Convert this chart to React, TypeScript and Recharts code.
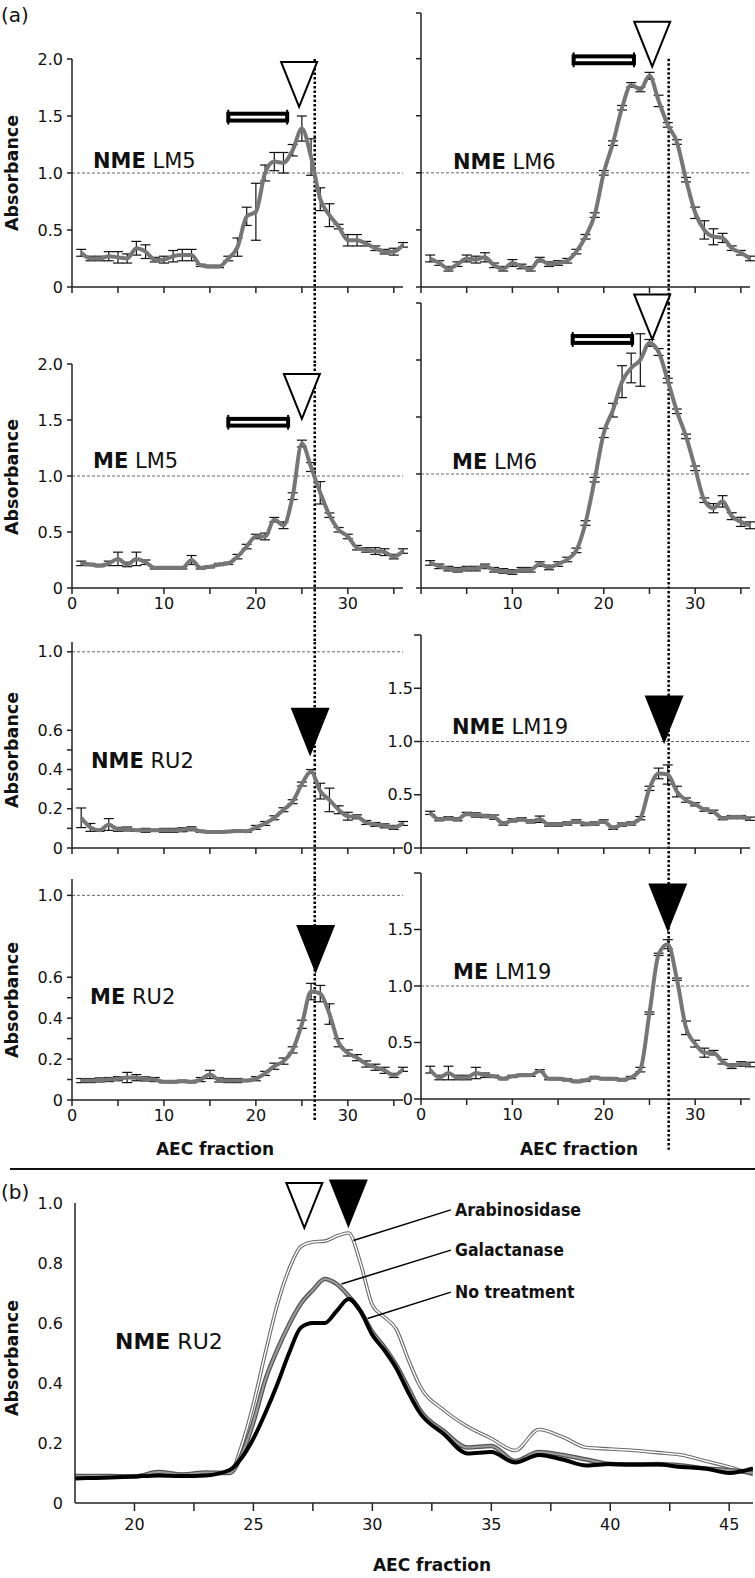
import React from "react"
import { LineChart, Line, XAxis, YAxis, ReferenceLine, ReferenceDot, ReferenceArea, ErrorBar } from "recharts"

// ---- (a) AEC fractions 1..36, absorbance readings ----
const fractions = [1, 2, 3, 4, 5, 6, 7, 8, 9, 10, 11, 12, 13, 14, 15, 16, 17, 18, 19, 20, 21, 22, 23, 24, 25, 26, 27, 28, 29, 30, 31, 32, 33, 34, 35, 36]
const xTicksA = [0, 5, 10, 15, 20, 25, 30, 35]

const nmeLm5 = [0.30, 0.25, 0.25, 0.27, 0.26, 0.25, 0.34, 0.31, 0.24, 0.24, 0.27, 0.28, 0.28, 0.19, 0.18, 0.18, 0.25, 0.35, 0.62, 0.66, 1.00, 1.10, 1.09, 1.20, 1.39, 1.14, 0.77, 0.63, 0.53, 0.41, 0.41, 0.38, 0.34, 0.31, 0.31, 0.37]
const nmeLm5Err = [0.03, 0.02, 0.02, 0.04, 0.05, 0.04, 0.06, 0.06, 0.02, 0.03, 0.05, 0.05, 0.05, 0.01, 0.01, 0.01, 0.02, 0.08, 0.08, 0.25, 0.07, 0.08, 0.09, 0.05, 0.11, 0.16, 0.1, 0.1, 0.02, 0.05, 0.05, 0.02, 0.02, 0.02, 0.03, 0.02]

const nmeLm6 = [0.25, 0.21, 0.16, 0.20, 0.25, 0.24, 0.26, 0.19, 0.16, 0.21, 0.18, 0.16, 0.24, 0.20, 0.21, 0.23, 0.31, 0.44, 0.63, 1.00, 1.26, 1.57, 1.77, 1.73, 1.85, 1.63, 1.42, 1.27, 0.94, 0.65, 0.50, 0.44, 0.43, 0.34, 0.30, 0.25]
const nmeLm6Err = [0.03, 0.02, 0.02, 0.02, 0.03, 0.03, 0.04, 0.02, 0.02, 0.03, 0.02, 0.02, 0.02, 0.02, 0.02, 0.02, 0.02, 0.02, 0.02, 0.02, 0.02, 0.02, 0.02, 0.02, 0.03, 0.05, 0.02, 0.02, 0.02, 0.05, 0.08, 0.07, 0.04, 0.02, 0.02, 0.02]

const meLm5 = [0.22, 0.21, 0.20, 0.22, 0.26, 0.21, 0.26, 0.23, 0.18, 0.18, 0.18, 0.18, 0.25, 0.18, 0.19, 0.21, 0.22, 0.28, 0.37, 0.46, 0.46, 0.61, 0.56, 0.82, 1.29, 1.08, 0.85, 0.65, 0.52, 0.46, 0.36, 0.34, 0.33, 0.32, 0.28, 0.33]
const meLm5Err = [0.02, 0.01, 0.01, 0.02, 0.06, 0.02, 0.06, 0.02, 0.01, 0.01, 0.01, 0.01, 0.04, 0.01, 0.01, 0.01, 0.01, 0.02, 0.02, 0.02, 0.03, 0.02, 0.03, 0.03, 0.03, 0.04, 0.1, 0.02, 0.02, 0.02, 0.02, 0.02, 0.03, 0.03, 0.02, 0.02]

const meLm6 = [0.22, 0.19, 0.17, 0.16, 0.17, 0.17, 0.19, 0.16, 0.15, 0.14, 0.16, 0.16, 0.21, 0.18, 0.21, 0.25, 0.33, 0.57, 0.95, 1.36, 1.56, 1.81, 1.93, 2.00, 2.15, 2.07, 1.82, 1.55, 1.33, 1.05, 0.77, 0.70, 0.76, 0.63, 0.58, 0.55]
const meLm6Err = [0.02, 0.02, 0.02, 0.02, 0.02, 0.02, 0.02, 0.02, 0.02, 0.02, 0.02, 0.02, 0.02, 0.02, 0.02, 0.02, 0.02, 0.02, 0.02, 0.04, 0.06, 0.14, 0.13, 0.23, 0.03, 0.03, 0.02, 0.02, 0.02, 0.02, 0.02, 0.04, 0.05, 0.03, 0.04, 0.03]

const nmeRu2 = [0.154, 0.105, 0.09, 0.12, 0.095, 0.097, 0.09, 0.09, 0.09, 0.09, 0.09, 0.093, 0.098, 0.085, 0.082, 0.082, 0.084, 0.087, 0.085, 0.105, 0.125, 0.154, 0.195, 0.236, 0.326, 0.39, 0.29, 0.245, 0.195, 0.162, 0.159, 0.13, 0.12, 0.113, 0.105, 0.125]
const nmeRu2Err = [0.05, 0.02, 0.005, 0.03, 0.01, 0.01, 0.005, 0.01, 0.005, 0.01, 0.01, 0.01, 0.01, 0.005, 0.005, 0.005, 0.005, 0.005, 0.005, 0.01, 0.01, 0.01, 0.01, 0.01, 0.01, 0.01, 0.04, 0.06, 0.02, 0.02, 0.01, 0.01, 0.01, 0.01, 0.01, 0.01]

const nmeLm19 = [0.33, 0.27, 0.28, 0.27, 0.32, 0.31, 0.30, 0.29, 0.23, 0.26, 0.27, 0.25, 0.27, 0.22, 0.22, 0.23, 0.25, 0.225, 0.23, 0.25, 0.19, 0.22, 0.23, 0.28, 0.56, 0.70, 0.69, 0.53, 0.45, 0.41, 0.36, 0.34, 0.28, 0.29, 0.29, 0.275]
const nmeLm19Err = [0.015, 0.015, 0.015, 0.015, 0.015, 0.02, 0.015, 0.02, 0.015, 0.015, 0.015, 0.015, 0.03, 0.015, 0.015, 0.015, 0.015, 0.015, 0.015, 0.015, 0.015, 0.015, 0.015, 0.015, 0.02, 0.05, 0.09, 0.05, 0.02, 0.015, 0.015, 0.015, 0.015, 0.015, 0.015, 0.015]

const meRu2 = [0.095, 0.095, 0.098, 0.10, 0.104, 0.11, 0.109, 0.103, 0.10, 0.089, 0.089, 0.092, 0.089, 0.10, 0.125, 0.098, 0.095, 0.095, 0.095, 0.104, 0.13, 0.165, 0.19, 0.245, 0.37, 0.53, 0.52, 0.42, 0.28, 0.23, 0.207, 0.176, 0.16, 0.145, 0.12, 0.15]
const meRu2Err = [0.01, 0.01, 0.01, 0.01, 0.01, 0.025, 0.015, 0.01, 0.01, 0.005, 0.005, 0.005, 0.005, 0.01, 0.02, 0.01, 0.01, 0.01, 0.005, 0.01, 0.01, 0.015, 0.015, 0.015, 0.02, 0.04, 0.04, 0.05, 0.02, 0.015, 0.015, 0.015, 0.015, 0.015, 0.01, 0.01]

const meLm19 = [0.26, 0.19, 0.23, 0.19, 0.19, 0.23, 0.21, 0.20, 0.18, 0.20, 0.21, 0.21, 0.25, 0.18, 0.18, 0.17, 0.155, 0.165, 0.19, 0.18, 0.18, 0.17, 0.19, 0.26, 0.76, 1.28, 1.37, 1.06, 0.63, 0.49, 0.41, 0.41, 0.33, 0.29, 0.31, 0.305]
const meLm19Err = [0.03, 0.02, 0.06, 0.02, 0.02, 0.05, 0.02, 0.01, 0.01, 0.01, 0.01, 0.01, 0.01, 0.01, 0.01, 0.01, 0.01, 0.01, 0.01, 0.01, 0.01, 0.01, 0.01, 0.02, 0.01, 0.01, 0.04, 0.01, 0.06, 0.03, 0.04, 0.02, 0.02, 0.02, 0.02, 0.02]

// ---- (b) NME RU2 after enzyme treatments ----
const bFractions = [17.5, 18, 19, 20, 21, 22, 23, 24, 24.5, 25, 25.5, 26, 26.5, 27, 27.5, 28, 28.5, 29, 29.5, 30, 30.5, 31, 31.5, 32, 33, 34, 35, 36, 37, 38, 39, 40, 41, 42, 43, 44, 45, 46]
const bNoTreatment = [0.082, 0.083, 0.085, 0.088, 0.092, 0.09, 0.092, 0.11, 0.15, 0.215, 0.30, 0.395, 0.50, 0.585, 0.60, 0.60, 0.64, 0.68, 0.64, 0.56, 0.51, 0.45, 0.37, 0.30, 0.23, 0.165, 0.17, 0.135, 0.16, 0.145, 0.125, 0.13, 0.128, 0.128, 0.12, 0.115, 0.10, 0.115]
const bGalactanase = [0.09, 0.09, 0.09, 0.088, 0.103, 0.095, 0.102, 0.10, 0.16, 0.27, 0.41, 0.51, 0.595, 0.665, 0.71, 0.747, 0.73, 0.69, 0.64, 0.57, 0.52, 0.46, 0.385, 0.31, 0.24, 0.185, 0.19, 0.14, 0.17, 0.16, 0.145, 0.13, 0.128, 0.13, 0.125, 0.115, 0.11, 0.10]
const bArabinosidase = [0.09, 0.09, 0.09, 0.09, 0.1, 0.095, 0.1, 0.1, 0.19, 0.33, 0.50, 0.66, 0.78, 0.855, 0.87, 0.873, 0.89, 0.90, 0.80, 0.66, 0.62, 0.58, 0.48, 0.39, 0.31, 0.255, 0.215, 0.175, 0.245, 0.22, 0.185, 0.18, 0.175, 0.168, 0.16, 0.14, 0.12, 0.095]
const bXTicks = [20, 22.5, 25, 27.5, 30, 32.5, 35, 37.5, 40, 42.5, 45]
const bYTicks = [0, 0.2, 0.4, 0.6, 0.8, 1]

const FONT = "'DejaVu Sans', Arial, sans-serif"
const NARROW = "'DejaVu Sans Condensed', 'Liberation Sans Narrow', 'Liberation Sans', Arial, sans-serif"
const GREY = "#767676"
const fmt = (v: number) => (v === 0 ? "0" : v.toFixed(1))

const triangle = (filled: boolean) => (p: any) => {
  const { cx, cy } = p
  return (
    <path d={`M${cx},${cy} L${cx - 18},${cy - 45} L${cx + 18},${cy - 45} Z`}
      fill={filled ? "#000" : "#fff"} stroke="#000" strokeWidth={2} />
  )
}

const barShape = (p: any) => {
  const { x, y, width, height } = p
  return (
    <g>
      <rect x={x} y={y} width={width} height={height} fill="#fff" stroke="#000" strokeWidth={4} />
      <line x1={x} x2={x} y1={y - 4} y2={y + height + 4} stroke="#000" strokeWidth={2} />
      <line x1={x + width} x2={x + width} y1={y - 4} y2={y + height + 4} stroke="#000" strokeWidth={2} />
    </g>
  )
}

type PanelCfg = {
  left: number; top: number; width: number; height: number
  yMax: number; yTicks: number[]; yLabels: number[]; ySide: "left" | "right"
  xLabels: number[]
  values: number[]; errors: number[]
  dotX: number; dotTop: number; dotBottom: number
  tri: [number, number]; filled: boolean
  bar?: [number, number, number]
}

const leftTicks = [0, 0.5, 1, 1.5, 2]
const smallTicks = [0, 0.1, 0.2, 0.3, 0.4, 0.5, 0.6, 1]
const smallLabels = [0, 0.2, 0.4, 0.6, 1]

const panels: PanelCfg[] = [
  { left: 72, top: 59, width: 331, height: 228, yMax: 2, yTicks: leftTicks, yLabels: leftTicks, ySide: "left", xLabels: [],
    values: nmeLm5, errors: nmeLm5Err, dotX: 26.4, dotTop: 2, dotBottom: -0.675, tri: [24.7, 1.58], filled: false, bar: [17, 23.4, 1.49] },
  { left: 421, top: 13, width: 329, height: 274, yMax: 2.4, yTicks: [0, 0.5, 1, 1.5, 2, 2.4], yLabels: [], ySide: "right", xLabels: [],
    values: nmeLm6, errors: nmeLm6Err, dotX: 27.1, dotTop: 2, dotBottom: -0.14, tri: [25.3, 1.93], filled: false, bar: [16.7, 23.3, 1.99] },
  { left: 72, top: 364, width: 331, height: 224, yMax: 2, yTicks: leftTicks, yLabels: leftTicks, ySide: "left", xLabels: [0, 10, 20, 30],
    values: meLm5, errors: meLm5Err, dotX: 26.4, dotTop: 2, dotBottom: -0.482, tri: [25.0, 1.51], filled: false, bar: [17, 23.5, 1.48] },
  { left: 421, top: 303, width: 329, height: 285, yMax: 2.5, yTicks: [0, 0.5, 1, 1.5, 2, 2.5], yLabels: [], ySide: "right", xLabels: [10, 20, 30],
    values: meLm6, errors: meLm6Err, dotX: 27.1, dotTop: 2.5, dotBottom: -0.412, tri: [25.3, 2.18], filled: false, bar: [16.6, 23.1, 2.18] },
  { left: 72, top: 642, width: 331, height: 206, yMax: 1.05, yTicks: smallTicks, yLabels: smallLabels, ySide: "left", xLabels: [],
    values: nmeRu2, errors: nmeRu2Err, dotX: 26.4, dotTop: 1.05, dotBottom: -0.158, tri: [25.9, 0.48], filled: true },
  { left: 421, top: 635, width: 329, height: 213, yMax: 2, yTicks: [0, 0.5, 1, 1.5, 2], yLabels: [0, 0.5, 1, 1.5], ySide: "right", xLabels: [],
    values: nmeLm19, errors: nmeLm19Err, dotX: 27.1, dotTop: 2, dotBottom: -0.235, tri: [26.6, 1.0], filled: true },
  { left: 72, top: 879, width: 331, height: 221, yMax: 1.08, yTicks: smallTicks, yLabels: smallLabels, ySide: "left", xLabels: [0, 10, 20, 30],
    values: meRu2, errors: meRu2Err, dotX: 26.4, dotTop: 1.08, dotBottom: -0.108, tri: [26.5, 0.63], filled: true },
  { left: 421, top: 873, width: 329, height: 226, yMax: 2, yTicks: [0, 0.5, 1, 1.5, 2], yLabels: [0, 0.5, 1, 1.5], ySide: "right", xLabels: [0, 10, 20, 30],
    values: meLm19, errors: meLm19Err, dotX: 27.1, dotTop: 2, dotBottom: -0.45, tri: [27.0, 1.5], filled: true },
]

const tickStyle = { fontSize: 16, fill: "#111", fontFamily: FONT }
const axisStroke = { stroke: "#222", strokeWidth: 1.5 }

function Panel({ c }: { c: PanelCfg }) {
  const ML = 62, MR = 14, MT = 16, MB = 100, XH = 30
  const data = fractions.map((f, i) => ({ f, v: c.values[i], e: c.errors[i] }))
  const labelled = c.ySide === "left" || c.yLabels.length > 0
  return (
    <div style={{ position: "absolute", left: c.left - ML, top: c.top - MT }}>
      <LineChart width={c.width + ML + MR} height={c.height + MT + MB} data={data}
        margin={{ top: MT, right: MR, bottom: MB - XH, left: 0 }}>
        <XAxis dataKey="f" type="number" domain={[0, 36]} ticks={xTicksA} allowDataOverflow height={XH}
          tickFormatter={(v: number) => (c.xLabels.includes(v) ? String(v) : "")}
          tick={tickStyle} tickSize={6} tickMargin={4} axisLine={axisStroke} tickLine={axisStroke} interval={0} />
        <YAxis type="number" domain={[0, c.yMax]} ticks={c.yTicks} allowDataOverflow width={ML} interval={0}
          tickFormatter={(v: number) => (c.yLabels.includes(v) ? fmt(v) : "")}
          tick={tickStyle} tickSize={labelled && c.ySide === "right" ? 7 : 5} tickMargin={c.ySide === "right" ? 1 : 4}
          axisLine={axisStroke} tickLine={axisStroke} />
        <ReferenceLine y={1} stroke="#666" strokeWidth={1} strokeDasharray="3 2" />
        <ReferenceLine segment={[{ x: c.dotX, y: c.dotTop }, { x: c.dotX, y: c.dotBottom }]} ifOverflow="visible"
          stroke="#000" strokeWidth={2.5} strokeDasharray="2.5 2" />
        {c.bar && (
          <ReferenceArea x1={c.bar[0]} x2={c.bar[1]} y1={c.bar[2] - 0.03} y2={c.bar[2] + 0.03} shape={barShape} ifOverflow="visible" />
        )}
        <Line dataKey="v" type="monotone" stroke={GREY} strokeWidth={4} dot={false} isAnimationActive={false}>
          <ErrorBar dataKey="e" width={5} stroke="#111" strokeWidth={1.2} />
        </Line>
        <ReferenceDot x={c.tri[0]} y={c.tri[1]} shape={triangle(c.filled)} ifOverflow="visible" />
      </LineChart>
    </div>
  )
}

function PanelB() {
  const ML = 70, MR = 2, MT = 30, MB = 45, XH = 40
  const left = 75, top = 1203, width = 678, height = 300
  const data = bFractions.map((f, i) => ({ f, nt: bNoTreatment[i], ga: bGalactanase[i], ar: bArabinosidase[i] }))
  return (
    <div style={{ position: "absolute", left: left - ML, top: top - MT }}>
      <LineChart width={width + ML + MR} height={height + MT + MB} data={data}
        margin={{ top: MT, right: MR, bottom: MB - XH, left: 0 }}>
        <XAxis dataKey="f" type="number" domain={[17.5, 46]} ticks={bXTicks} allowDataOverflow height={XH} interval={0}
          tickFormatter={(v: number) => (v % 5 === 0 ? String(v) : "")}
          tick={tickStyle} tickSize={8} tickMargin={8} axisLine={axisStroke} tickLine={axisStroke} />
        <YAxis type="number" domain={[0, 1]} ticks={bYTicks} allowDataOverflow width={ML} interval={0}
          tickFormatter={fmt} tick={tickStyle} tickLine={false} tickSize={4} tickMargin={8} axisLine={axisStroke} />
        <Line dataKey="ar" type="monotone" stroke="#6a6a6a" strokeWidth={3.6} dot={false} isAnimationActive={false} />
        <Line dataKey="ar" type="monotone" stroke="#fff" strokeWidth={1.4} dot={false} isAnimationActive={false} />
        <Line dataKey="ga" type="monotone" stroke="#555" strokeWidth={4.5} dot={false} isAnimationActive={false} />
        <Line dataKey="ga" type="monotone" stroke="#9c9c9c" strokeWidth={2} dot={false} isAnimationActive={false} />
        <Line dataKey="nt" type="monotone" stroke="#000" strokeWidth={4} dot={false} isAnimationActive={false} />
        <ReferenceLine segment={[{ x: 33.3, y: 0.977 }, { x: 29.2, y: 0.875 }]} stroke="#000" strokeWidth={1.5} />
        <ReferenceLine segment={[{ x: 33.3, y: 0.843 }, { x: 28.7, y: 0.73 }]} stroke="#000" strokeWidth={1.5} />
        <ReferenceLine segment={[{ x: 33.3, y: 0.703 }, { x: 29.8, y: 0.615 }]} stroke="#000" strokeWidth={1.5} />
        <ReferenceDot x={27.14} y={0.917} shape={triangle(false)} ifOverflow="visible" />
        <ReferenceDot x={28.99} y={0.925} shape={triangle(true)} ifOverflow="visible" />
      </LineChart>
    </div>
  )
}

const abs = (cy: number) => (
  <div key={cy} style={{ position: "absolute", left: 12 - 80, top: cy - 11, width: 160, height: 22, lineHeight: "22px",
    textAlign: "center", transform: "rotate(-90deg)", fontWeight: "bold", fontSize: 17.5, fontFamily: FONT, color: "#111" }}>
    Absorbance
  </div>
)

const Txt = ({ x, cy, size, bold, family, children }: any) => (
  <div style={{ position: "absolute", left: x, top: cy - size * 0.6, fontSize: size, lineHeight: `${size * 1.2}px`,
    fontFamily: family || FONT, fontWeight: bold ? "bold" : "normal", whiteSpace: "nowrap", color: "#111" }}>
    {children}
  </div>
)

const Title = ({ x, cy, a, b, size = 21 }: any) => (
  <Txt x={x} cy={cy} size={size}><b>{a}</b> {b}</Txt>
)

const aecStyle = { position: "absolute" as const, width: 160, textAlign: "center" as const, fontWeight: "bold", fontSize: 17, fontFamily: FONT, color: "#111" }

export default function App() {
  return (
    <div style={{ position: "absolute", left: 0, top: 0, width: 755, height: 1578, background: "#fff", overflow: "hidden" }}>
      {panels.map((c, i) => <Panel key={i} c={c} />)}
      <PanelB />
      <Txt x={1} cy={15} size={20}>(a)</Txt>
      <Title x={93} cy={162} a="NME" b="LM5" />
      <Title x={453} cy={163} a="NME" b="LM6" />
      <Title x={93} cy={462} a="ME" b="LM5" />
      <Title x={452} cy={463} a="ME" b="LM6" />
      <Title x={91} cy={762} a="NME" b="RU2" />
      <Title x={452} cy={728} a="NME" b="LM19" />
      <Title x={90} cy={998} a="ME" b="RU2" />
      <Title x={453} cy={973} a="ME" b="LM19" />
      {[173, 477, 750, 1000, 1358].map(abs)}
      <div style={{ ...aecStyle, left: 215 - 80, top: 1139 }}>AEC fraction</div>
      <div style={{ ...aecStyle, left: 579 - 80, top: 1139 }}>AEC fraction</div>
      <div style={{ position: "absolute", left: 10, top: 1168, width: 745, height: 2, background: "#111" }} />
      <Txt x={1} cy={1192} size={20}>(b)</Txt>
      <Title x={115} cy={1342} a="NME" b="RU2" size={22} />
      <Txt x={455} cy={1210} size={17.5} bold family={NARROW}>Arabinosidase</Txt>
      <Txt x={455} cy={1250} size={17.5} bold family={NARROW}>Galactanase</Txt>
      <Txt x={455} cy={1292} size={17.5} bold family={NARROW}>No treatment</Txt>
      <div style={{ ...aecStyle, left: 432 - 80, top: 1555 }}>AEC fraction</div>
    </div>
  )
}
